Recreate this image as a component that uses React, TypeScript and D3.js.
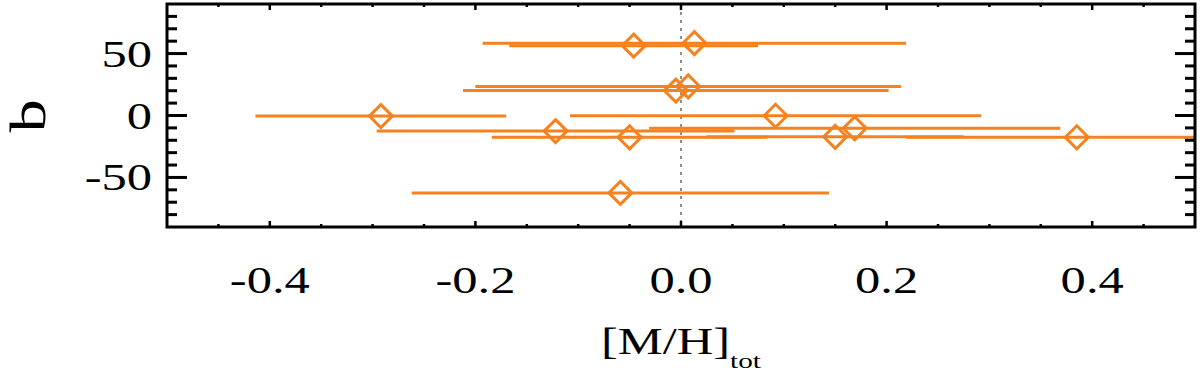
import React, { useEffect, useRef } from 'react';
import * as d3 from 'd3';

// [M/H]_tot vs galactic latitude b, with error bars in [M/H]
const metal = [-0.046, 0.013, 0.007, -0.005, -0.292, 0.092, -0.122, 0.169, -0.05, 0.15, 0.385, -0.059];
const metalErr = [0.121, 0.206, 0.207, 0.207, 0.122, 0.2, 0.174, 0.2, 0.134, 0.125, 0.166, 0.203];
const latitude = [56.4, 58.4, 23.5, 20.1, -0.5, -0.2, -12.6, -10.3, -17.6, -17.2, -17.6, -62.5];

const xTickLabels = ['-0.4', '-0.2', '0.0', '0.2', '0.4'];
const yTickLabels = ['-50', '0', '50'];

const ORANGE = '#f5821f';

const App = () => {
    const svgRef = useRef<SVGSVGElement>(null);

    useEffect(() => {
        const svg = d3.select(svgRef.current);
        svg.selectAll('*').remove();

        const left = 167, right = 1195, top = 4, bottom = 227;
        const font = "'Liberation Serif', 'Times New Roman', Times, serif";
        const stretch = 1.33;

        const x = d3.scaleLinear().domain([-0.5, 0.5]).range([left, right]);
        const y = d3.scaleLinear().domain([-90, 90]).range([bottom, top]);

        svg.append('clipPath')
            .attr('id', 'plot-clip')
            .append('rect')
            .attr('x', left)
            .attr('y', top)
            .attr('width', right - left)
            .attr('height', bottom - top);

        // zero line
        svg.append('line')
            .attr('x1', x(0)).attr('x2', x(0))
            .attr('y1', top).attr('y2', bottom)
            .style('stroke', '#555')
            .style('stroke-width', 1.3)
            .style('stroke-dasharray', '3,5');

        const pts = metal.map((m, i) => ({ m, e: metalErr[i], b: latitude[i] }));

        const g = svg.append('g').attr('clip-path', 'url(#plot-clip)');

        // error bars
        g.selectAll('.err')
            .data(pts)
            .enter()
            .append('line')
            .attr('x1', d => x(d.m - d.e))
            .attr('x2', d => x(d.m + d.e))
            .attr('y1', d => y(d.b))
            .attr('y2', d => y(d.b))
            .style('stroke', ORANGE)
            .style('stroke-width', 3);

        // diamonds
        const r = 11.5;
        g.selectAll('.pt')
            .data(pts)
            .enter()
            .append('path')
            .attr('d', d => {
                const cx = x(d.m), cy = y(d.b);
                return `M${cx},${cy - r}L${cx + r},${cy}L${cx},${cy + r}L${cx - r},${cy}Z`;
            })
            .style('fill', 'none')
            .style('stroke', ORANGE)
            .style('stroke-width', 3);

        // ticks
        const ticks = svg.append('g').style('stroke', '#000').style('stroke-width', 3);
        d3.range(-80, 81, 10).forEach(v => {
            const len = v % 50 === 0 ? 20 : 10;
            ticks.append('line').attr('x1', left).attr('x2', left + len).attr('y1', y(v)).attr('y2', y(v));
            ticks.append('line').attr('x1', right).attr('x2', right - len).attr('y1', y(v)).attr('y2', y(v));
        });
        d3.range(-0.45, 0.46, 0.05).forEach(v => {
            const major = Math.abs(Math.round(v * 100)) % 20 === 0;
            const len = major ? 6 : 3;
            ticks.append('line').attr('x1', x(v)).attr('x2', x(v)).attr('y1', bottom).attr('y2', bottom - len).style('stroke-width', 2.5);
            ticks.append('line').attr('x1', x(v)).attr('x2', x(v)).attr('y1', top).attr('y2', top + len).style('stroke-width', 2.5);
        });

        // frame
        svg.append('rect')
            .attr('x', left).attr('y', top)
            .attr('width', right - left).attr('height', bottom - top)
            .style('fill', 'none')
            .style('stroke', '#000')
            .style('stroke-width', 3);

        // tick labels
        xTickLabels.forEach(t => {
            svg.append('text')
                .attr('transform', `translate(${x(+t)},293) scale(${stretch},1)`)
                .attr('text-anchor', 'middle')
                .style('font-family', font)
                .style('font-size', '38px')
                .text(t);
        });
        yTickLabels.forEach(t => {
            svg.append('text')
                .attr('transform', `translate(152,${y(+t) + 13}) scale(${stretch},1)`)
                .attr('text-anchor', 'end')
                .style('font-family', font)
                .style('font-size', '38px')
                .text(t);
        });

        // axis titles
        const xt = svg.append('text')
            .attr('transform', `translate(${x(0)},354) scale(${stretch},1)`)
            .attr('text-anchor', 'middle')
            .style('font-family', font)
            .style('font-size', '38px');
        xt.append('tspan').text('[M/H]');
        xt.append('tspan').attr('dy', 14).style('font-size', '22px').text('tot');

        svg.append('text')
            .attr('transform', `translate(45,116) rotate(-90) scale(${stretch},1)`)
            .attr('text-anchor', 'middle')
            .style('font-family', font)
            .style('font-size', '50px')
            .text('b');
    }, []);

    return (
        <div style={{ position: 'absolute', left: 0, top: 0 }}>
            <svg ref={svgRef} width={1200} height={373} style={{ display: 'block', background: '#fff' }}></svg>
        </div>
    );
};

export default App;
